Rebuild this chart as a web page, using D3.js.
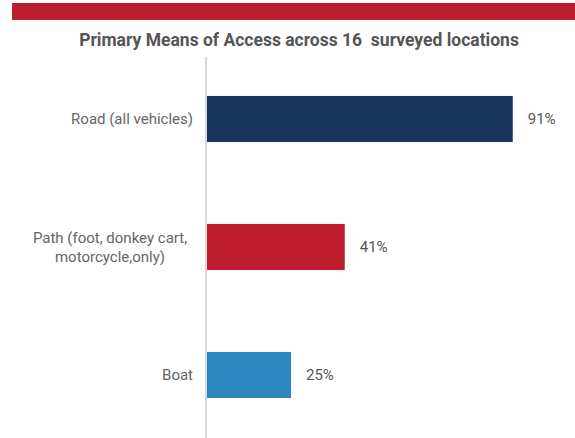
<!DOCTYPE html>
<html>
<head>
<meta charset="utf-8">
<script src="https://cdn.jsdelivr.net/npm/d3@7"></script>
<style>
  body { margin: 0; background: #fff; }
  svg { display: block; font-family: Roboto, "Noto Sans", sans-serif; }
</style>
</head>
<body>
<div id="chart"></div>
<script>
const categories = [
  ["Road (all vehicles)"],
  ["Path (foot, donkey cart,", "motorcycle,only)"],
  ["Boat"]
];
const values = [91, 41, 25];
const barColors = ["#1b365d", "#be1e2d", "#2e86c1"];
const title = "Primary Means of Access across 16  surveyed locations";

const width = 575, height = 438;
const svg = d3.select("#chart").append("svg")
  .attr("width", width)
  .attr("height", height);

// red band at top
svg.append("rect")
  .attr("x", 12).attr("y", 3)
  .attr("width", width - 12).attr("height", 17)
  .attr("fill", "#be1e2d");

svg.append("text")
  .attr("x", 299).attr("y", 46)
  .attr("text-anchor", "middle")
  .attr("font-size", 17.5)
  .attr("font-weight", 700)
  .attr("fill", "#555")
  .attr("xml:space", "preserve")
  .text(title);

const x = d3.scaleLinear().domain([0, 100]).range([207, 543]);
const y = d3.scaleBand()
  .domain(d3.range(values.length))
  .range([55, 439])
  .paddingInner(0.64)
  .paddingOuter(0.32);

// vertical axis line
svg.append("line")
  .attr("x1", 206).attr("x2", 206)
  .attr("y1", 57).attr("y2", height)
  .attr("stroke", "#d9d9d9")
  .attr("stroke-width", 2);

svg.selectAll("rect.bar")
  .data(values)
  .join("rect")
  .attr("class", "bar")
  .attr("x", x(0))
  .attr("y", (d, i) => y(i))
  .attr("width", d => x(d) - x(0))
  .attr("height", y.bandwidth())
  .attr("fill", (d, i) => barColors[i]);

svg.selectAll("text.val")
  .data(values)
  .join("text")
  .attr("class", "val")
  .attr("x", d => x(d) + 15)
  .attr("y", (d, i) => y(i) + y.bandwidth() / 2)
  .attr("dy", "0.35em")
  .attr("font-size", 15)
  .attr("fill", "#555")
  .text(d => d + "%");

// single-line labels right-aligned; multi-line labels centred as a block
const labels = svg.selectAll("text.cat")
  .data(categories)
  .join("text")
  .attr("class", "cat")
  .attr("font-size", 15)
  .attr("fill", "#666")
  .attr("text-anchor", d => d.length > 1 ? "middle" : "end")
  .attr("y", (d, i) => y(i) + y.bandwidth() / 2);

labels.selectAll("tspan")
  .data(d => d.map((t, j) => ({ t, j, n: d.length })))
  .join("tspan")
  .attr("x", d => d.n > 1 ? 110 : 193)
  .attr("dy", d => d.j === 0 ? ((0.35 - (d.n - 1) * 0.63) + "em") : "1.27em")
  .text(d => d.t);
</script>
</body>
</html>
